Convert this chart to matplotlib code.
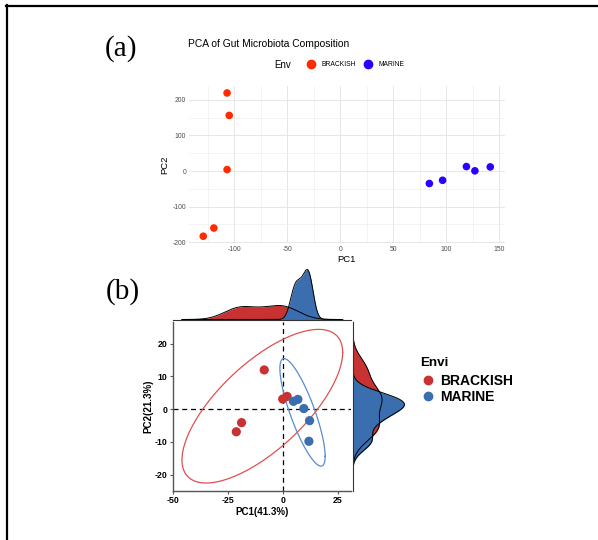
import numpy as np
import matplotlib.pyplot as plt
from matplotlib.lines import Line2D

plt.rcParams['font.family'] = ['Liberation Sans', 'DejaVu Sans']
plt.rcParams['axes.unicode_minus'] = False

# (a) PCA gögn
groups = ['BRACKISH', 'MARINE']
a_brackish_pc1 = [-107, -105, -107, -119.5, -129.5]
a_brackish_pc2 = [219, 156, 4, -160, -183]
a_marine_pc1 = [84, 96.5, 119, 127, 141.5]
a_marine_pc2 = [-35, -26, 12.5, 0.5, 11.5]

# (b) PCA gögn
b_brackish_pc1 = [-8.4, 0.0, 2.0, -18.7, -21.1]
b_brackish_pc2 = [12.0, 3.1, 3.9, -4.1, -6.9]
b_marine_pc1 = [4.9, 6.9, 9.6, 12.2, 11.9]
b_marine_pc2 = [2.4, 3.0, 0.2, -3.5, -9.8]

a_xticks = [-100, -50, 0, 50, 100, 150]
a_yticks = [-200, -100, 0, 100, 200]
b_xticks = [-50, -25, 0, 25]
b_yticks = [-20, -10, 0, 10, 20]

a_cols = {'BRACKISH': '#FF2A00', 'MARINE': '#2B00FF'}
b_cols = {'BRACKISH': '#C83232', 'MARINE': '#3A6EAE'}
ell_cols = {'BRACKISH': '#DE5050', 'MARINE': '#5A8CCB'}

W, H = 598, 540


def box(l, t, r, b):
    return [l / W, 1 - b / H, (r - l) / W, (b - t) / H]


def expand(lo, hi, f=0.05):
    d = (hi - lo) * f
    return lo - d, hi + d


def bw_nrd0(v):
    v = np.asarray(v, float)
    q75, q25 = np.percentile(v, [75, 25])
    lo = min(v.std(ddof=1), (q75 - q25) / 1.34)
    return 0.9 * lo * len(v) ** -0.2


def kde(v, grid):
    v = np.asarray(v, float)
    h = bw_nrd0(v)
    z = (grid[:, None] - v[None, :]) / h
    return np.exp(-0.5 * z ** 2).sum(1) / (len(v) * h * np.sqrt(2 * np.pi))


def cov_trob(X, nu=5, maxit=25, tol=0.01):
    n, p = X.shape
    loc = X.mean(0)
    w = np.ones(n)
    for _ in range(maxit):
        w0 = w
        Xc = X - loc
        _, d, Vt = np.linalg.svd(Xc / np.sqrt(n), full_matrices=False)
        Q = ((Xc @ Vt.T / d) ** 2).sum(1)
        w = (nu + p) / (nu + Q)
        loc = (w[:, None] * X).sum(0) / w.sum()
        if np.all(np.abs(w - w0) < tol):
            break
    sX = np.sqrt(w)[:, None] * Xc
    return loc, sX.T @ sX / n


def stat_ellipse(x, y, level=0.95, seg=120):
    X = np.column_stack([x, y]).astype(float)
    n = len(X)
    center, shape = cov_trob(X)
    dfd = n - 1
    q = dfd / 2 * ((1 - level) ** (-2 / dfd) - 1)  # qf(level, 2, dfd)
    radius = np.sqrt(2 * q)
    ang = np.linspace(0, 2 * np.pi, seg + 1)
    circ = np.column_stack([np.cos(ang), np.sin(ang)])
    pts = center + radius * circ @ np.linalg.cholesky(shape).T
    return pts[:, 0], pts[:, 1]


fig = plt.figure(figsize=(W / 100, H / 100), dpi=100)

# ramminn
fig.add_artist(Line2D([6 / W, 1], [1 - 5.5 / H, 1 - 5.5 / H], color='black', lw=1.6))
fig.add_artist(Line2D([6.8 / W, 6.8 / W], [0, 1 - 5 / H], color='black', lw=1.6))

# ---------------- (a) ----------------
ax = fig.add_axes(box(188.9, 85.8, 504.6, 243.4))
a_x = {'BRACKISH': a_brackish_pc1, 'MARINE': a_marine_pc1}
a_y = {'BRACKISH': a_brackish_pc2, 'MARINE': a_marine_pc2}
for g in groups:
    ax.scatter(a_x[g], a_y[g], s=30, color=a_cols[g], edgecolors='none', zorder=3)
allx = a_brackish_pc1 + a_marine_pc1
ally = a_brackish_pc2 + a_marine_pc2
ax.set_xlim(*expand(min(allx), max(allx)))
ax.set_ylim(*expand(min(ally), max(ally)))
ax.set_xticks(a_xticks)
ax.set_yticks(a_yticks)
ax.set_xticks([-125, -75, -25, 25, 75, 125], minor=True)
ax.set_yticks([-150, -50, 50, 150], minor=True)
ax.grid(True, which='major', color='#E6E6E6', lw=0.7)
ax.grid(True, which='minor', color='#EFEFEF', lw=0.5)
ax.set_axisbelow(True)
for s in ax.spines.values():
    s.set_visible(False)
ax.tick_params(which='both', length=0, labelsize=4.9, labelcolor='#4D4D4D', pad=2)
ax.set_xlabel('PC1', fontsize=6.8, labelpad=1.5)
ax.set_ylabel('PC2', fontsize=6.8, labelpad=2)

fig.text(188 / W, 1 - 44 / H, 'PCA of Gut Microbiota Composition', fontsize=7.4, va='center', ha='left')
fig.text(283 / W, 1 - 65.5 / H, 'Env', fontsize=7, va='center', ha='center')
a_handles = [Line2D([], [], ls='none', marker='o', ms=6, color=a_cols[g]) for g in groups]
fig.legend(a_handles, groups, loc='center left', bbox_to_anchor=(307.3 / W, 1 - 65 / H),
           ncol=2, frameon=False, fontsize=4.9, borderpad=0, borderaxespad=0, handlelength=1,
           handletextpad=1.1, columnspacing=1.2)

fig.text(121 / W, 1 - 49 / H, '(a)', family='Liberation Serif', fontsize=21, ha='center', va='center')
fig.text(122.5 / W, 1 - 292 / H, '(b)', family='Liberation Serif', fontsize=21, ha='center', va='center')

# ---------------- (b) ----------------
axm = fig.add_axes(box(172.7, 321.7, 350.7, 490.7))
axt = fig.add_axes(box(172.7, 266, 350.7, 319.5), sharex=axm)
axr = fig.add_axes(box(352.7, 321.7, 407.5, 490.7), sharey=axm)

b_x = {'BRACKISH': b_brackish_pc1, 'MARINE': b_marine_pc1}
b_y = {'BRACKISH': b_brackish_pc2, 'MARINE': b_marine_pc2}
ell = {g: stat_ellipse(b_x[g], b_y[g]) for g in groups}

xs = np.concatenate([np.concatenate([ell[g][0], b_x[g]]) for g in groups])
ys = np.concatenate([np.concatenate([ell[g][1], b_y[g]]) for g in groups])

for g in groups:
    axm.plot(ell[g][0], ell[g][1], color=ell_cols[g], lw=0.9, zorder=2)
axm.axvline(0, color='black', lw=0.9, ls=(0, (4, 3)), zorder=1)
axm.axhline(0, color='black', lw=0.9, ls=(0, (4, 3)), zorder=1)
for g in groups:
    axm.scatter(b_x[g], b_y[g], s=44, color=b_cols[g], edgecolors='none', zorder=3)
axm.set_xlim(*expand(xs.min(), xs.max()))
axm.set_ylim(*expand(ys.min(), ys.max()))
axm.set_xticks(b_xticks)
axm.set_yticks(b_yticks)
for s in ['top', 'right']:
    axm.spines[s].set_visible(False)
for s in ['left', 'bottom']:
    axm.spines[s].set_color('#555555')
    axm.spines[s].set_linewidth(1.0)
axm.tick_params(length=2.5, width=0.8, color='#555555', labelsize=6.3, pad=1.5)
for lab in axm.get_xticklabels() + axm.get_yticklabels():
    lab.set_fontweight('bold')
axm.set_xlabel('PC1(41.3%)', fontsize=7, fontweight='bold', labelpad=1)
axm.set_ylabel('PC2(21.3%)', fontsize=7, fontweight='bold', labelpad=1)

# jaðarþéttleiki
gx = np.linspace(xs.min(), xs.max(), 512)
gy = np.linspace(ys.min(), ys.max(), 512)
dx = {g: kde(b_x[g], gx) for g in groups}
dy = {g: kde(b_y[g], gy) for g in groups}
for g in groups:
    axt.fill_between(gx, 0, dx[g], color=b_cols[g], lw=0)
    axt.plot(gx, dx[g], color='black', lw=0.7)
    axr.fill_betweenx(gy, 0, dy[g], color=b_cols[g], lw=0)
    axr.plot(dy[g], gy, color='black', lw=0.7)
axt.set_ylim(0, max(d.max() for d in dx.values()) * 1.07)
axr.set_xlim(0, max(d.max() for d in dy.values()) * 1.06)
for a in (axt, axr):
    for s in a.spines.values():
        s.set_visible(False)
    a.tick_params(left=False, bottom=False, labelleft=False, labelbottom=False)
axt.spines['bottom'].set_visible(True)
axt.spines['bottom'].set_color('#333333')
axr.spines['left'].set_visible(True)
axr.spines['left'].set_color('#333333')

fig.text(420 / W, 1 - 363.5 / H, 'Envi', fontsize=9.6, fontweight='bold', ha='left', va='center')
b_handles = [Line2D([], [], ls='none', marker='o', ms=6, color=b_cols[g]) for g in groups]
fig.legend(b_handles, groups, loc='center left', bbox_to_anchor=(421.3 / W, 1 - 389 / H),
           frameon=False, borderpad=0, borderaxespad=0, handlelength=1,
           handletextpad=0.35, labelspacing=0.1,
           prop={'weight': 'bold', 'size': 10})

plt.savefig('out.png', dpi=100)
